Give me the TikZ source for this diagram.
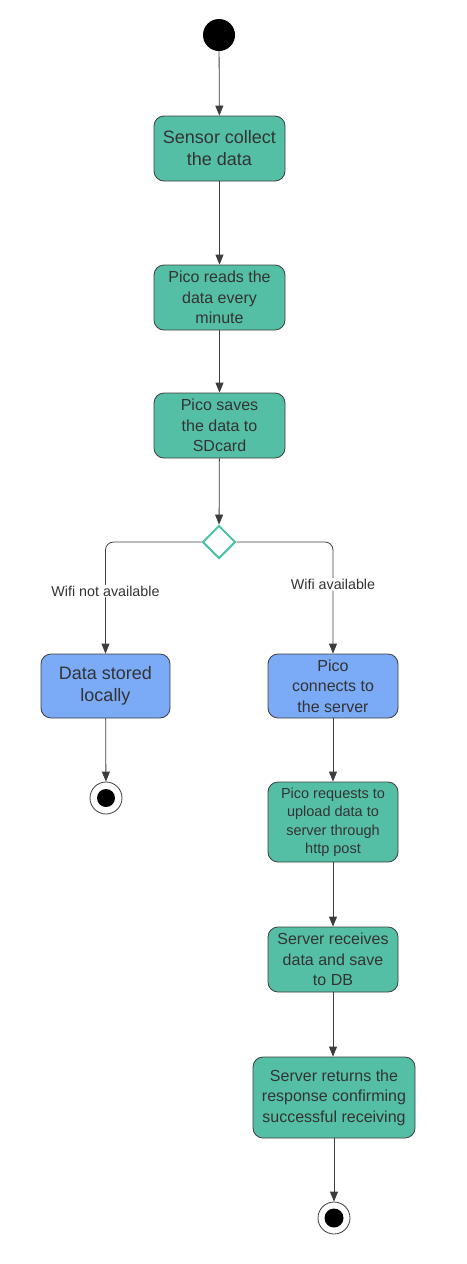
\documentclass[tikz,border=0pt]{standalone}
\usepackage{fontspec}
\setmainfont{Liberation Sans}
\usetikzlibrary{arrows.meta,shapes.geometric}
\definecolor{teal1}{HTML}{55BFA6}
\definecolor{blue1}{HTML}{7BAAF7}
\definecolor{edge}{HTML}{3D3D3D}
\definecolor{txt}{HTML}{333333}
\definecolor{dia}{HTML}{4CC3A9}
\tikzset{
  act/.style={draw=edge, line width=0.8pt, rounded corners=10pt, fill=teal1, text=txt, align=center, inner sep=0pt},
  actblue/.style={act, fill=blue1},
  conn/.style={draw=edge, line width=0.8pt, -{Triangle[length=10pt,width=8pt]}},
  lbl/.style={fill=white, text=txt, inner sep=1pt, font=\fontsize{14.3}{17}\selectfont},
  f18/.style={font=\fontsize{18}{22}\selectfont},
  f16/.style={font=\fontsize{16}{20.5}\selectfont},
  f145/.style={font=\fontsize{14.5}{18.5}\selectfont},
}
\begin{document}
\begin{tikzpicture}[x=1pt,y=-1pt]
\useasboundingbox (0,0) rectangle (466,1264);
% start
\node[circle, fill=black, minimum size=32pt, inner sep=0pt] (start) at (219,35) {};
\node[act, f18, minimum width=131pt, minimum height=65pt] (s1) at (219.5,148.5) {Sensor collect\\the data};
\node[act, f16, minimum width=131pt, minimum height=65pt] (s2) at (219.5,297.5) {Pico reads the\\data every\\minute};
\node[act, f16, minimum width=131pt, minimum height=65pt] (s3) at (219.5,425.5) {Pico saves\\the data to\\SDcard};
\node[diamond, draw=dia, line width=2pt, fill=white, minimum width=33pt, minimum height=33pt, inner sep=0pt] (d) at (219,542) {};
\node[actblue, f18, minimum width=129pt, minimum height=64pt] (s4) at (105.5,686) {Data stored\\locally};
\node[actblue, f16, minimum width=130pt, minimum height=64pt] (s5) at (333,686) {Pico\\connects to\\the server};
\node[circle, draw=edge, line width=0.8pt, fill=white, minimum size=32pt, inner sep=0pt] (e1) at (106,798) {};
\node[circle, fill=black, minimum size=18pt, inner sep=0pt] at (e1) {};
\node[act, f145, minimum width=130pt, minimum height=80pt] (s6) at (333,822) {Pico requests to\\upload data to\\server through\\http post};
\node[act, f16, minimum width=130pt, minimum height=65pt] (s7) at (333,959.5) {Server receives\\data and save\\to DB};
\node[act, f16, minimum width=162pt, minimum height=81pt] (s8) at (334,1097.5) {Server returns the\\response confirming\\successful receiving};
\node[circle, draw=edge, line width=0.8pt, fill=white, minimum size=32pt, inner sep=0pt] (e2) at (334,1218) {};
\node[circle, fill=black, minimum size=19pt, inner sep=0pt] at (e2) {};
% connectors
\draw[conn] (start) -- (s1);
\draw[conn] (s1) -- (s2);
\draw[conn] (s2) -- (s3);
\draw[conn] (s3) -- (d);
\draw[conn, rounded corners=8pt] (d.west) -| (s4.north) node[lbl, pos=0.72] {Wifi not available};
\draw[conn, rounded corners=8pt] (d.east) -| (s5.north) node[lbl, pos=0.69] {Wifi available};
\draw[conn] (s4) -- (e1);
\draw[conn] (s5) -- (s6);
\draw[conn] (s6) -- (s7);
\draw[conn] (s7.south) -- (s8.north -| s7.south);
\draw[conn] (s8) -- (e2);
\end{tikzpicture}
\end{document}
